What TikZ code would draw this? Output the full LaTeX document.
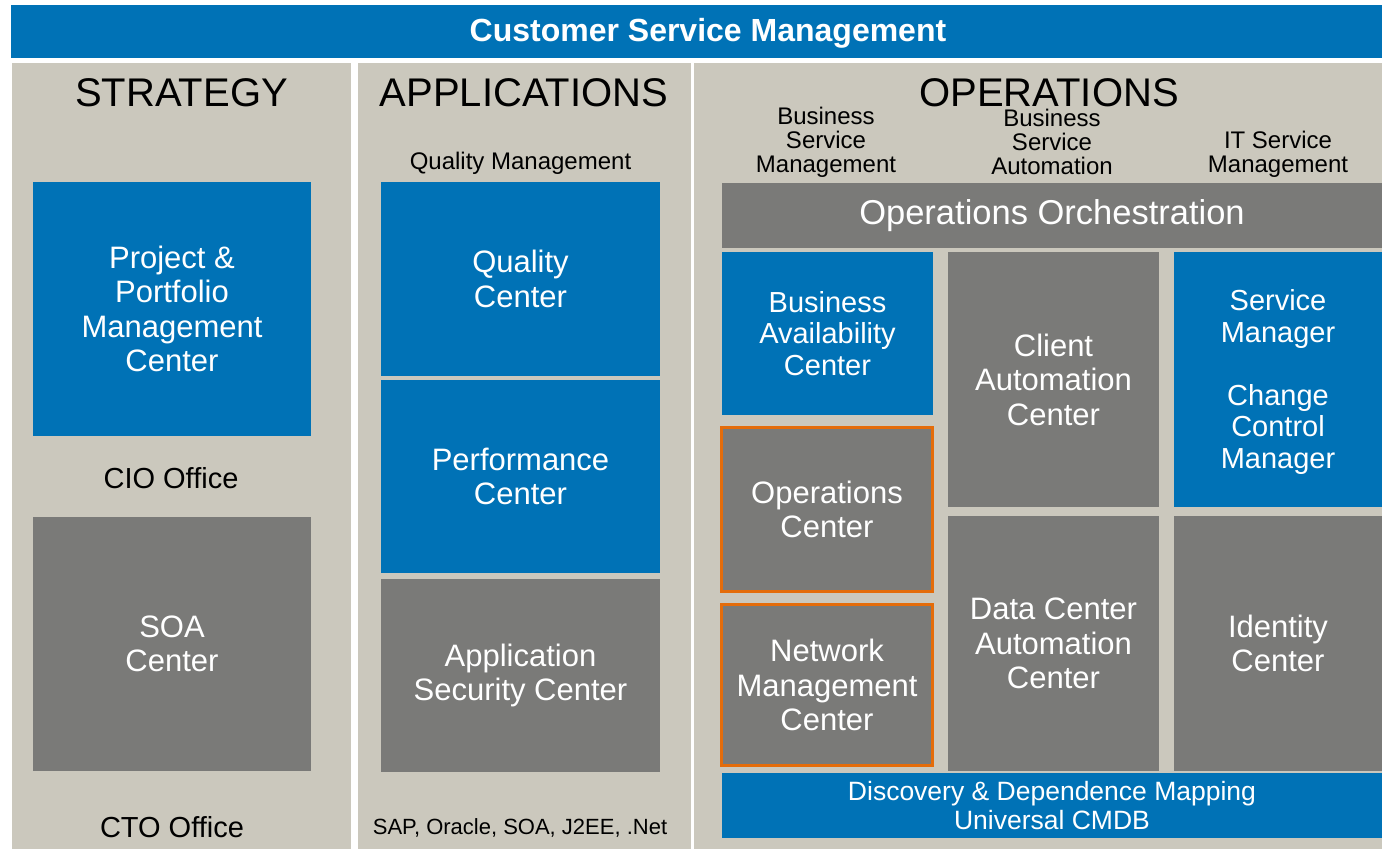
\documentclass[tikz,border=0pt]{standalone}
\usepackage{fontspec}
\setmainfont{Liberation Sans}
\definecolor{hpblue}{RGB}{0,114,182}
\definecolor{tilegray}{RGB}{122,122,120}
\definecolor{panelbg}{RGB}{203,200,189}
\definecolor{hporange}{RGB}{228,108,10}
\newcommand{\fsz}[2]{\fontsize{#1}{#2}\selectfont}

\begin{document}
\begin{tikzpicture}[x=1pt,y=-1pt,
    panel/.style={fill=panelbg,inner sep=0pt},
    bluetile/.style={fill=hpblue,text=white,align=center,inner sep=0pt,font=\fsz{31}{34.5}},
    graytile/.style={fill=tilegray,text=white,align=center,inner sep=0pt,font=\fsz{31}{34.5}},
    hilite/.style={draw=hporange,line width=3.3pt},
    heading/.style={font=\fsz{40}{44}},
    caption/.style={font=\fsz{24}{24},align=center}]
    \useasboundingbox (0,0) rectangle (1382,849);
    \node[bluetile,minimum width=1371,minimum height=53] (csm) at (696.5,31.5) {};
    \node[text=white,font=\fsz{32}{34}\bfseries,inner sep=0pt] (csmT) at (708,33) {Customer Service Management};

    \node[panel,minimum width=339,minimum height=786] (strat) at (181.5,456) {};
    \node[panel,minimum width=333,minimum height=786] (apps) at (524.5,456) {};
    \node[panel,minimum width=688,minimum height=786] (ops) at (1038,456) {};

    \node[heading] (stratH) at (181.5,93) {STRATEGY};
    \node[bluetile,minimum width=278,minimum height=254] (ppm) at (172,309) {Project \&\\Portfolio\\Management\\Center};
    \node[caption,font=\fsz{29}{30}] (cio) at (171,478) {CIO Office};
    \node[graytile,minimum width=278,minimum height=254] (soa) at (172,644) {SOA\\Center};
    \node[caption,font=\fsz{29}{30}] (cto) at (172,827) {CTO Office};

    \node[heading] (appsH) at (524,93) {APPLICATIONS};
    \node[caption] (qm) at (520.5,163) {Quality Management};
    \node[bluetile,minimum width=279,minimum height=194] (qc) at (520.5,279) {Quality\\Center};
    \node[bluetile,minimum width=279,minimum height=193] (pc) at (520.5,476.5) {Performance\\Center};
    \node[graytile,minimum width=279,minimum height=193] (asc) at (520.5,675.5) {Application\\Security Center};
    \node[caption,font=\fsz{22}{24}] (plat) at (520,828) {SAP, Oracle, SOA, J2EE, .Net};

    \node[heading] (opsH) at (1049,93) {OPERATIONS};
    \node[caption] (bsm) at (826,142) {Business\\Service\\Management};
    \node[caption] (bsa) at (1052,142) {Business\\Service\\Automation};
    \node[caption] (itsm) at (1278,154) {IT Service\\Management};
    \node[graytile,minimum width=660,minimum height=65,font=\fsz{34.5}{38}] (oo) at (1052,215.5) {Operations Orchestration};
    \node[bluetile,minimum width=211,minimum height=163,font=\fsz{29}{31.5}] (bac) at (827.5,333.5) {Business\\Availability\\Center};
    \node[graytile,hilite,minimum width=211,minimum height=164] (opc) at (827,509.5) {Operations\\Center};
    \node[graytile,hilite,minimum width=211,minimum height=161] (nmc) at (827,685) {Network\\Management\\Center};
    \node[graytile,minimum width=211,minimum height=255] (cac) at (1053.5,379.5) {Client\\Automation\\Center};
    \node[graytile,minimum width=211,minimum height=255] (dca) at (1053.5,643.5) {Data Center\\Automation\\Center};
    \node[bluetile,minimum width=208,minimum height=255,font=\fsz{29}{31.5}] (sm) at (1278,379.5) {};
    \node[text=white,align=center,inner sep=0pt,font=\fsz{29}{31.5}] (smT) at (1278,382) {Service\\Manager\\[31.5pt]Change\\Control\\Manager};
    \node[graytile,minimum width=208,minimum height=255] (idc) at (1278,643.5) {Identity\\Center};
    \node[bluetile,minimum width=660,minimum height=65,font=\fsz{26.5}{29}] (ddm) at (1052,805.5) {Discovery \& Dependence Mapping\\Universal CMDB};
\end{tikzpicture}
\end{document}
